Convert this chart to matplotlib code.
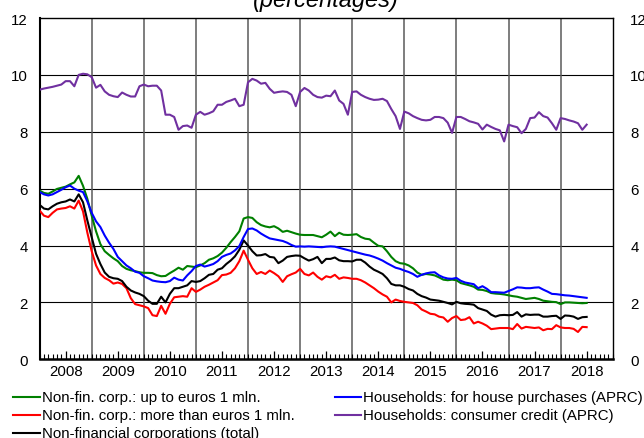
import matplotlib
matplotlib.use("Agg")
import matplotlib.pyplot as plt
from matplotlib.lines import Line2D
import numpy as np

plt.rcParams['font.family'] = ['Liberation Sans', 'DejaVu Sans']

# monthly data, Jan 2008 - Jul 2018 (month index 0..126)
years = list(range(2008, 2019))

nfc_small = [5.93, 5.85, 5.82, 5.9, 5.99, 6.03, 6.07, 6.15, 6.22, 6.45,
             6.1, 5.64, 5.05, 4.5, 4.05, 3.8, 3.67, 3.55, 3.45, 3.28,
             3.18, 3.13, 3.1, 3.06, 3.04, 3.04, 3.03, 2.96, 2.92, 2.93,
             3.03, 3.12, 3.22, 3.15, 3.28, 3.26, 3.24, 3.3, 3.38, 3.5,
             3.55, 3.63, 3.75, 3.92, 4.12, 4.3, 4.5, 4.95, 5.0, 4.97,
             4.82, 4.72, 4.67, 4.64, 4.68, 4.6, 4.48, 4.52, 4.47, 4.42,
             4.38, 4.37, 4.37, 4.37, 4.33, 4.29, 4.38, 4.49, 4.33, 4.45,
             4.38, 4.37, 4.38, 4.4, 4.3, 4.24, 4.22, 4.1, 3.99, 3.97,
             3.8, 3.6, 3.45, 3.38, 3.36, 3.3, 3.2, 3.05, 2.97, 3.0,
             2.98, 2.95, 2.88, 2.8, 2.78, 2.8, 2.78, 2.68, 2.64, 2.6,
             2.55, 2.45, 2.44, 2.4, 2.33, 2.31, 2.3, 2.28, 2.25, 2.22,
             2.2, 2.16, 2.12, 2.14, 2.16, 2.12, 2.06, 2.04, 2.02, 2.01,
             1.94, 2.0, 2.0, 1.99, 1.98, 1.97, 1.98]

nfc_large = [5.23, 5.05, 5.0, 5.15, 5.27, 5.3, 5.32, 5.38, 5.3, 5.58,
             5.2, 4.45, 3.8, 3.3, 3.0, 2.86, 2.78, 2.66, 2.7, 2.65,
             2.5, 2.15, 1.94, 1.9, 1.86, 1.8, 1.55, 1.52, 1.88, 1.6,
             1.95, 2.18, 2.2, 2.22, 2.2, 2.5, 2.37, 2.45, 2.55, 2.62,
             2.7, 2.78, 2.96, 2.98, 3.04, 3.2, 3.45, 3.82, 3.5, 3.2,
             3.0, 3.07, 3.0, 3.12, 3.03, 2.92, 2.72, 2.92, 2.99, 3.05,
             3.18, 3.0, 2.95, 3.05, 2.9, 2.8, 2.92, 2.88, 2.97, 2.83,
             2.88, 2.86, 2.83, 2.83, 2.78, 2.7, 2.6, 2.5, 2.38, 2.28,
             2.2, 2.0, 2.1, 2.05, 2.02, 2.0, 1.98, 1.9, 1.75, 1.68,
             1.6, 1.58, 1.5, 1.47, 1.32, 1.45, 1.52, 1.38, 1.4, 1.48,
             1.26, 1.32, 1.26, 1.18, 1.06, 1.08, 1.1, 1.1, 1.1, 1.06,
             1.24, 1.08, 1.14, 1.12, 1.1, 1.12, 1.02, 1.07, 1.06, 1.2,
             1.12, 1.1, 1.1, 1.07, 0.96, 1.14, 1.13]

nfc_total = [5.43, 5.3, 5.27, 5.38, 5.47, 5.52, 5.55, 5.62, 5.55, 5.8,
             5.52, 4.88, 4.29, 3.71, 3.35, 3.05, 2.9, 2.85, 2.83, 2.75,
             2.55, 2.42, 2.35, 2.3, 2.22, 2.06, 1.95, 1.95, 2.2, 2.0,
             2.3, 2.5, 2.5, 2.55, 2.6, 2.75, 2.72, 2.75, 2.85, 2.97,
             3.0, 3.15, 3.2, 3.35, 3.47, 3.62, 3.85, 4.18, 4.0, 3.8,
             3.65, 3.66, 3.7, 3.6, 3.58, 3.38, 3.47, 3.6, 3.63, 3.65,
             3.64, 3.55, 3.47, 3.52, 3.6, 3.38, 3.53, 3.53, 3.58, 3.48,
             3.45, 3.45, 3.44, 3.5, 3.5, 3.4, 3.26, 3.15, 3.08, 3.0,
             2.85, 2.65, 2.6, 2.6, 2.55, 2.47, 2.42, 2.3, 2.22, 2.17,
             2.1, 2.08, 2.06, 2.02, 1.98, 1.93, 2.02, 1.97, 1.95, 1.94,
             1.92, 1.8, 1.75, 1.7, 1.57, 1.5, 1.55, 1.56, 1.55, 1.56,
             1.66, 1.5, 1.58, 1.56, 1.57, 1.57, 1.5, 1.5, 1.52, 1.53,
             1.42, 1.54, 1.53, 1.5, 1.42, 1.48, 1.49]

hh_house = [5.88, 5.8, 5.76, 5.8, 5.88, 5.96, 6.05, 6.11, 6.0, 5.93,
            5.88, 5.55, 5.15, 4.85, 4.65, 4.35, 4.1, 3.88, 3.6, 3.45,
            3.3, 3.2, 3.08, 3.04, 2.92, 2.85, 2.77, 2.74, 2.72, 2.71,
            2.75, 2.87, 2.8, 2.77, 2.95, 3.1, 3.28, 3.33, 3.26, 3.3,
            3.35, 3.45, 3.6, 3.67, 3.72, 3.83, 3.98, 4.3, 4.58, 4.6,
            4.53, 4.42, 4.33, 4.25, 4.22, 4.19, 4.16, 4.1, 4.02, 3.96,
            3.97, 3.96, 3.97, 3.96, 3.95, 3.94, 3.96, 3.97, 3.96, 3.92,
            3.88, 3.84, 3.8, 3.76, 3.72, 3.68, 3.65, 3.6, 3.54, 3.47,
            3.38, 3.3, 3.22, 3.18, 3.12, 3.07, 3.0, 2.9, 2.97, 3.02,
            3.05, 3.06, 2.95, 2.88, 2.84, 2.83, 2.86, 2.76, 2.7, 2.67,
            2.64, 2.5, 2.57, 2.48, 2.36, 2.36, 2.35, 2.34, 2.4, 2.46,
            2.53, 2.52, 2.5, 2.5, 2.52, 2.53, 2.45, 2.38, 2.3, 2.29,
            2.27, 2.25, 2.24, 2.22, 2.2, 2.18, 2.16]

hh_consumer = [9.48, 9.52, 9.55, 9.58, 9.62, 9.66, 9.78, 9.78, 9.6, 10.0,
               10.04, 10.02, 9.92, 9.55, 9.65, 9.42, 9.3, 9.25, 9.22, 9.38,
               9.3, 9.24, 9.24, 9.6, 9.66, 9.6, 9.62, 9.62, 9.45, 8.6,
               8.6, 8.52, 8.07, 8.2, 8.22, 8.14, 8.6, 8.7, 8.6, 8.65,
               8.72, 8.95, 8.95, 9.05, 9.1, 9.16, 8.9, 8.95, 9.74, 9.86,
               9.8, 9.69, 9.72, 9.51, 9.37, 9.4, 9.42, 9.4, 9.3, 8.9,
               9.4, 9.54, 9.45, 9.3, 9.22, 9.2, 9.27, 9.25, 9.45, 9.1,
               8.98, 8.6, 9.4, 9.42, 9.3, 9.22, 9.16, 9.12, 9.13, 9.16,
               9.08, 8.8, 8.55, 8.1, 8.71, 8.65, 8.55, 8.48, 8.42, 8.4,
               8.42, 8.52, 8.52, 8.48, 8.32, 7.96, 8.52, 8.52, 8.45, 8.37,
               8.33, 8.28, 8.08, 8.25, 8.17, 8.1, 8.05, 7.66, 8.25, 8.2,
               8.16, 7.95, 8.1, 8.48, 8.5, 8.69, 8.55, 8.5, 8.3, 8.07,
               8.48, 8.45, 8.4, 8.36, 8.3, 8.07, 8.25]

labels = ["Non-fin. corp.: up to euros 1 mln.",
          "Non-fin. corp.: more than euros 1 mln.",
          "Non-financial corporations (total)",
          "Households: for house purchases (APRC)",
          "Households: consumer credit (APRC)"]
colors = ["#008000", "#ff0000", "#000000", "#0000ff", "#7030a0"]
series = [nfc_small, nfc_large, nfc_total, hh_house, hh_consumer]

months = np.arange(len(nfc_small))

fig = plt.figure(figsize=(6.44, 4.39), dpi=100)
ax = fig.add_axes([0.0615, 0.1793, 0.8899, 0.7774])

# grid: horizontal black, vertical grey at year boundaries
for yv in range(2, 12, 2):
    ax.axhline(yv, color="black", lw=0.8, zorder=1)
for xv in range(12, 132, 12):
    ax.axvline(xv, color="#5a5a5a", lw=1.1, zorder=1)

for vals, col in zip(series, colors):
    ax.plot(months, vals, color=col, lw=1.5, zorder=3)

ax.set_xlim(0, 132)
ax.set_ylim(0, 12)
ax.set_xticks(np.arange(6, 132, 12))
ax.set_xticklabels([str(y) for y in years])
ax.set_xticks(np.arange(0, 133, 1), minor=True)
ax.tick_params(axis="x", which="major", direction="in", length=6, width=0.9,
               labelsize=10.8, pad=3.5, top=False)
ax.tick_params(axis="x", which="minor", direction="in", length=3.6, width=0.8, top=False)
ax.set_yticks(range(0, 13, 2))
ax.tick_params(axis="y", length=0, labelsize=10.8, pad=8.5)

for side in ["top", "right"]:
    ax.spines[side].set_linewidth(1.0)
ax.spines["left"].set_linewidth(1.5)
ax.spines["bottom"].set_linewidth(1.8)

# right-hand labels
ax2 = ax.twinx()
ax2.set_ylim(0, 12)
ax2.set_yticks(range(0, 13, 2))
ax2.tick_params(axis="y", length=0, labelsize=10.8, pad=12.6)
for sp in ax2.spines.values():
    sp.set_visible(False)

fig.text(0.506, 0.985, "(percentages)", ha="center", va="baseline",
         fontsize=17, style="italic")

# legend below the chart, two columns
rows_y = [0.0941, 0.0524, 0.0107]
pos = [(0, 0), (0, 1), (0, 2), (1, 0), (1, 1)]
col_x = [(0.0202, 0.0621, 0.0652), (0.520, 0.5606, 0.5637)]
for (c, r), lab, col in zip(pos, labels, colors):
    x0, x1, xt = col_x[c]
    y = rows_y[r]
    fig.add_artist(Line2D([x0, x1], [y, y], color=col, lw=1.5,
                          transform=fig.transFigure))
    fig.text(xt, y, lab, ha="left", va="center", fontsize=10.8)

fig.savefig("out.png", dpi=100)
